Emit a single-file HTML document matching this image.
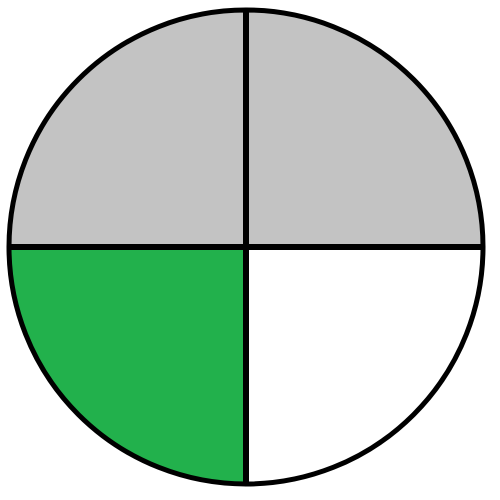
<!DOCTYPE html>
<html><head><meta charset="utf-8"><style>html,body{margin:0;padding:0;background:#fff;width:500px;height:500px;overflow:hidden}</style></head>
<body>
<svg id="chart" width="500" height="500" viewBox="0 0 500 500" xmlns="http://www.w3.org/2000/svg"></svg>
<script>
const categories = ["top-right","bottom-right","bottom-left","top-left"];
const values = [1,1,1,1];
const colors = ["#c3c3c3","#ffffff","#22b14c","#c3c3c3"];
const cx=246, cy=247, r=237;
const svg=document.getElementById('chart');
const NS='http://www.w3.org/2000/svg';
const total=values.reduce((a,b)=>a+b,0);
let a0=-Math.PI/2;
const angles=[];
values.forEach((v,i)=>{
  const a1=a0+v/total*2*Math.PI;
  const x0=cx+r*Math.cos(a0), y0=cy+r*Math.sin(a0);
  const x1=cx+r*Math.cos(a1), y1=cy+r*Math.sin(a1);
  const large=(a1-a0)>Math.PI?1:0;
  const p=document.createElementNS(NS,'path');
  p.setAttribute('d',`M${cx},${cy}L${x0},${y0}A${r},${r} 0 ${large} 1 ${x1},${y1}Z`);
  p.setAttribute('fill',colors[i]);
  p.setAttribute('stroke','#000');
  p.setAttribute('stroke-width','5');
  p.setAttribute('stroke-linejoin','round');
  
  
  svg.appendChild(p);
  angles.push(a0);
  a0=a1;
});
angles.forEach((a,i)=>{
  const l=document.createElementNS(NS,'line');
  l.setAttribute('x1',cx);l.setAttribute('y1',cy);
  l.setAttribute('x2',cx+r*Math.cos(a));l.setAttribute('y2',cy+r*Math.sin(a));
  l.setAttribute('stroke','#000');l.setAttribute('stroke-width','6');
  
  
  svg.appendChild(l);
});
</script>
</body></html>
